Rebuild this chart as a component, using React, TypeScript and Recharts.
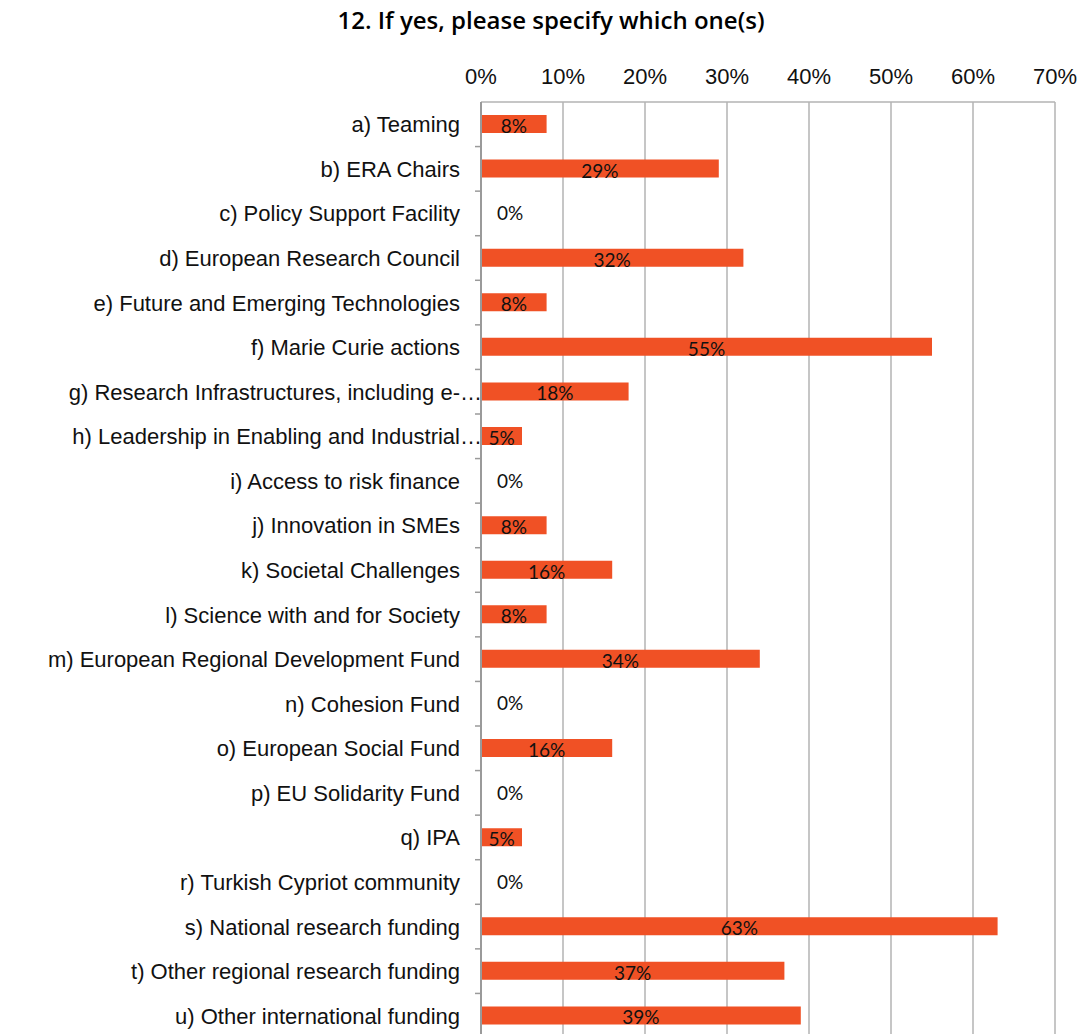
import { BarChart, Bar, XAxis, YAxis, CartesianGrid, LabelList, Rectangle } from "recharts";

// ── Data ────────────────────────────────────────────────────────────────────
const CATEGORIES = [
  "a) Teaming",
  "b) ERA Chairs",
  "c) Policy Support Facility",
  "d) European Research Council",
  "e) Future and Emerging Technologies",
  "f) Marie Curie actions",
  "g) Research Infrastructures, including e-…",
  "h) Leadership in Enabling and Industrial…",
  "i) Access to risk finance",
  "j) Innovation in SMEs",
  "k) Societal Challenges",
  "l) Science with and for Society",
  "m) European Regional Development Fund",
  "n) Cohesion Fund",
  "o) European Social Fund",
  "p) EU Solidarity Fund",
  "q) IPA",
  "r) Turkish Cypriot community",
  "s) National research funding",
  "t) Other regional research funding",
  "u) Other international funding",
];

const SHARES = [8, 29, 0, 32, 8, 55, 18, 5, 0, 8, 16, 8, 34, 0, 16, 0, 5, 0, 63, 37, 39];

const X_TICKS = [0, 10, 20, 30, 40, 50, 60, 70];

const TITLE = "12. If yes, please specify which one(s)";

// ── Style ───────────────────────────────────────────────────────────────────
const BAR_COLOR = "#F05125";
const GRID_COLOR = "#B3B3B3";
const AXIS_COLOR = "#9A9A9A";
const CAT_FONT = "'Liberation Sans', Arial, sans-serif";
const LABEL_FONT = "Lato, 'Open Sans', sans-serif";

const CHART_W = 1084;
const CHART_H = 1040;
const PLOT_TOP = 102;
const PLOT_BOTTOM = 1038;
const ROW_H = (PLOT_BOTTOM - PLOT_TOP) / CATEGORIES.length;

const data = CATEGORIES.map((name, i) => ({ name, value: SHARES[i] }));

function CategoryTick({ x, y, payload }: any) {
  const text: string = payload.value;
  const shift = text.endsWith("…") ? 22 : 0;
  return (
    <g>
      <line x1={x + 2} x2={x + 8} y1={y + ROW_H / 2} y2={y + ROW_H / 2} stroke={AXIS_COLOR} strokeWidth={1.5} />
      <text
        x={x - 13 + shift}
        y={y}
        dy={8}
        textAnchor="end"
        fontFamily={CAT_FONT}
        fontSize={22}
        fill="#111"
      >
        {text}
      </text>
    </g>
  );
}

// zero rows still get a 1px bar so the label is drawn, but nothing is painted
function BarShape(props: any) {
  if (!props.value) return <g />;
  return <Rectangle {...props} />;
}

function ValueLabel({ x, y, width, height, value }: any) {
  const txt = `${Math.round(value)}%`;
  if (!value) {
    return (
      <text x={x + 16} y={y + height / 2} dy={7} fontFamily={LABEL_FONT} fontSize={19} fill="#111">
        {txt}
      </text>
    );
  }
  return (
    <text
      x={x + width / 2}
      y={y + height / 2}
      dy={9}
      textAnchor="middle"
      fontFamily={LABEL_FONT}
      fontSize={19}
      fill="#111"
    >
      {txt}
    </text>
  );
}

export default function App() {
  return (
    <div
      style={{
        position: "absolute",
        left: 0,
        top: 0,
        width: CHART_W,
        height: 1034,
        overflow: "hidden",
        background: "#fff",
      }}
    >
      <div
        style={{
          position: "absolute",
          left: 0,
          width: 1102,
          top: 3,
          textAlign: "center",
          fontFamily: "'Open Sans', sans-serif",
          fontWeight: 600,
          fontSize: 24,
          color: "#000",
        }}
      >
        {TITLE}
      </div>
      <BarChart
        width={CHART_W}
        height={CHART_H}
        data={data}
        layout="vertical"
        margin={{ top: PLOT_TOP - 40, right: 29, bottom: CHART_H - PLOT_BOTTOM, left: 0 }}
        barSize={18}
        style={{ position: "absolute", left: 0, top: 0 }}
      >
        <CartesianGrid horizontal={false} stroke={GRID_COLOR} strokeWidth={1.5} />
        <XAxis
          type="number"
          orientation="top"
          domain={[0, 70]}
          ticks={X_TICKS}
          height={40}
          tickFormatter={(v) => `${v}%`}
          axisLine={{ stroke: GRID_COLOR, strokeWidth: 1.5 }}
          tickLine={false}
          tick={{ fontFamily: CAT_FONT, fontSize: 22, fill: "#111" }}
          tickMargin={12}
          interval={0}
        />
        <YAxis
          type="category"
          dataKey="name"
          width={481}
          axisLine={{ stroke: AXIS_COLOR, strokeWidth: 2 }}
          tickLine={false}
          tick={<CategoryTick />}
          interval={0}
        />
        <Bar dataKey="value" fill={BAR_COLOR} minPointSize={1} shape={<BarShape />} isAnimationActive={false}>
          <LabelList dataKey="value" content={<ValueLabel />} />
        </Bar>
      </BarChart>
    </div>
  );
}
